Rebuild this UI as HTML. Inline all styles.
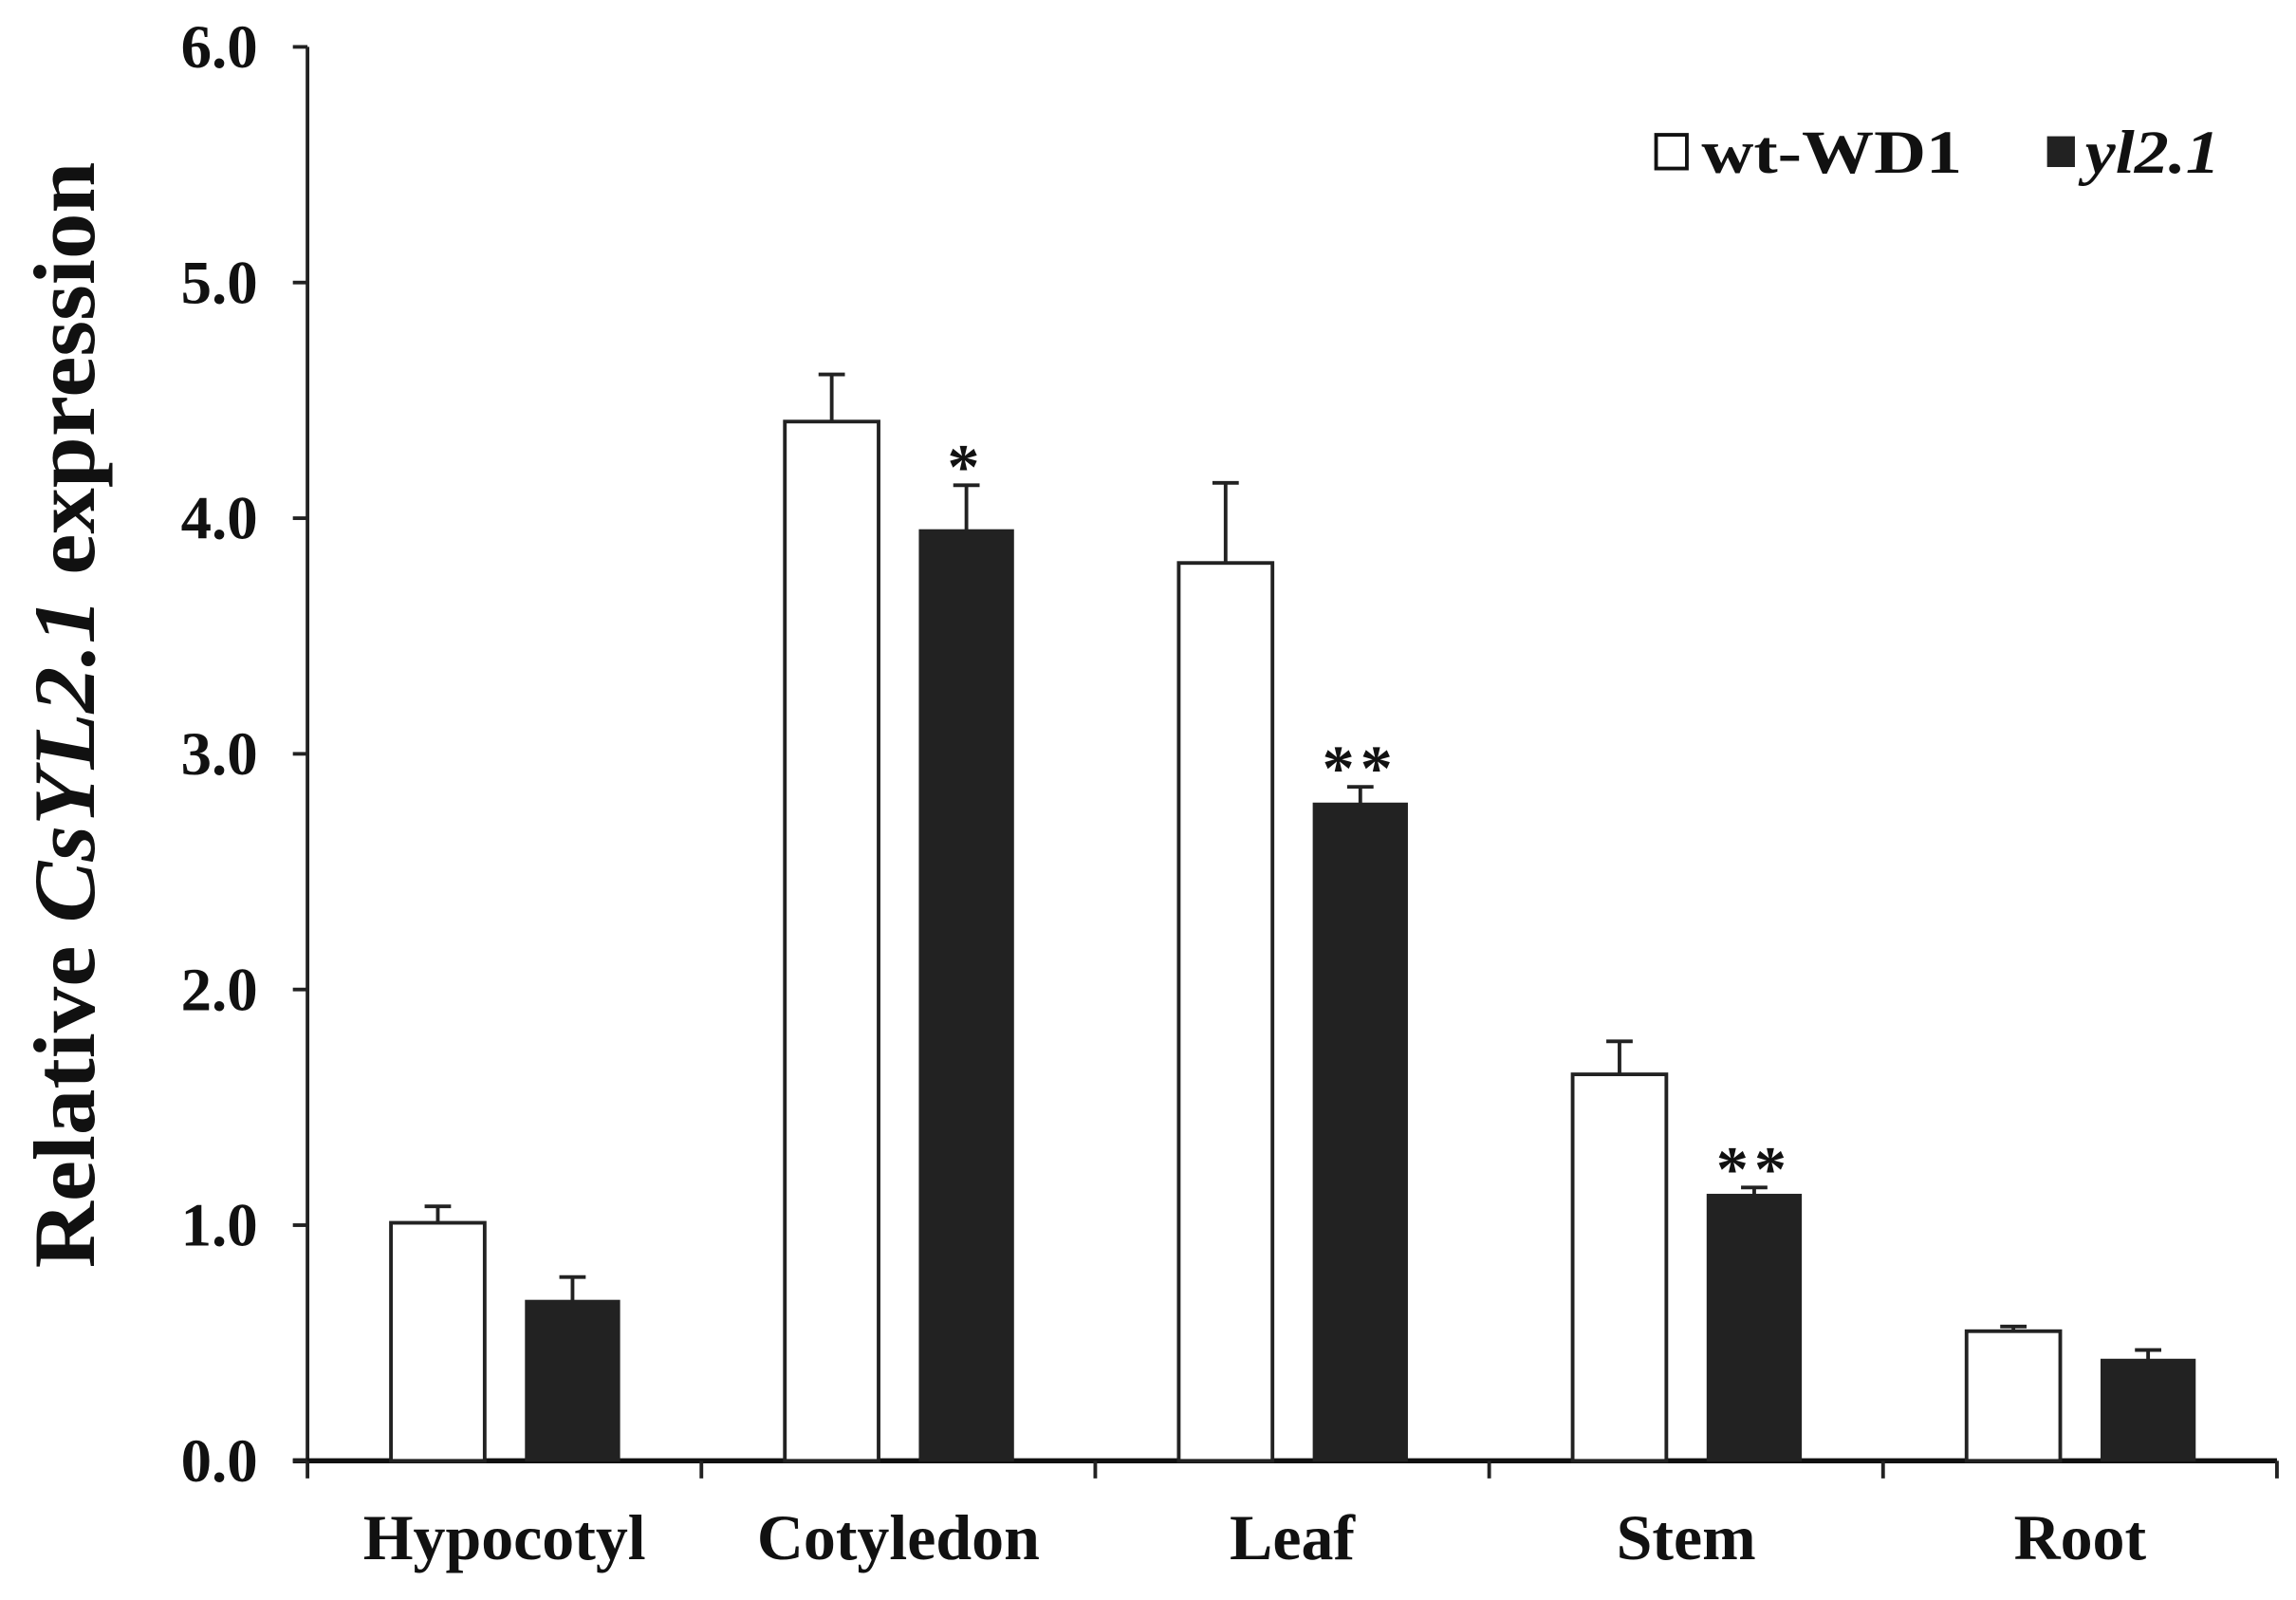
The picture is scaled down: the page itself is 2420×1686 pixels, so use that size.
<!DOCTYPE html>
<html><head><meta charset="utf-8">
<style>
html,body{margin:0;padding:0;background:#fff;}
svg{display:block;}
text{font-family:"Liberation Serif",serif;font-weight:bold;fill:#111;}
</style></head>
<body>
<svg id="chart" width="2420" height="1686" viewBox="0 0 1568 1092" preserveAspectRatio="none" xmlns="http://www.w3.org/2000/svg">
<g id="axes"></g>
<g id="bars"></g>
<text transform="translate(64,488) rotate(-90)" text-anchor="middle" font-size="60" textLength="755" lengthAdjust="spacingAndGlyphs">Relative <tspan font-style="italic">CsYL2.1</tspan> expression</text>
<g>
<rect x="1131" y="92" width="21" height="23" fill="#fff" stroke="#111" stroke-width="2.5"/>
<text x="1162" y="118" font-size="42" textLength="178" lengthAdjust="spacingAndGlyphs">wt-WD1</text>
<rect x="1398" y="93" width="19" height="21" fill="#222"/>
<text x="1424" y="118" font-size="42" font-style="italic" textLength="92" lengthAdjust="spacingAndGlyphs">yl2.1</text>
</g>
</svg>
<script>
const categories=["Hypocotyl","Cotyledon","Leaf","Stem","Root"];
const wtValues=[1.01,4.41,3.81,1.64,0.55];
const wtErrors=[0.07,0.20,0.34,0.14,0.02];
const ylValues=[0.68,3.95,2.79,1.13,0.43];
const ylErrors=[0.10,0.19,0.07,0.03,0.04];
const ylStars=["","*","**","**",""];
const yTicks=[0,1,2,3,4,5,6];
const yTickLabels=["0.0","1.0","2.0","3.0","4.0","5.0","6.0"];

const NS="http://www.w3.org/2000/svg";
const X0=210,X1=1555,Y0=997,Y1=32,YMAX=6;
const catW=(X1-X0)/categories.length;
function yScale(v){return Y0-(v/YMAX)*(Y0-Y1);}
function xCat(i){return X0+i*catW;}
function mk(tag,attrs,parent){const e=document.createElementNS(NS,tag);for(const k in attrs)e.setAttribute(k,attrs[k]);parent.appendChild(e);return e;}
const axes=document.getElementById('axes'),bars=document.getElementById('bars');

let e=mk('line',{x1:X0,y1:Y1,x2:X0,y2:Y0,stroke:'#222','stroke-width':2.5},axes);


e=mk('line',{x1:X0-10,y1:Y0,x2:X1,y2:Y0,stroke:'#111','stroke-width':3.5},axes);


yTicks.forEach((t,i)=>{
  const y=yScale(t);
  let l=mk('line',{x1:X0-10,y1:y,x2:X0,y2:y,stroke:'#222','stroke-width':2.5},axes);
  
  
  let tx=mk('text',{x:176,y:y+14,'text-anchor':'end','font-size':42},axes);
  tx.textContent=yTickLabels[i];
  
  
});
for(let i=0;i<=categories.length;i++){
  const x=xCat(i);
  let l=mk('line',{x1:x,y1:Y0,x2:x,y2:Y0+12,stroke:'#222','stroke-width':2.5},axes);
  
  
}
categories.forEach((c,i)=>{
  const cx=xCat(i)+catW/2;
  let tx=mk('text',{x:cx,y:1064,'text-anchor':'middle','font-size':44},axes);
  tx.textContent=c;
  
  
  const bw=64;
  const wx=xCat(i)+57, bx=xCat(i)+149;
  function drawBar(x,v,err,fill,name){
    const top=yScale(v);
    const cxm=x+bw/2;
    let el=mk('line',{x1:cxm,y1:top,x2:cxm,y2:yScale(v+err),stroke:'#222','stroke-width':2.5},bars);
    
    
    el=mk('line',{x1:cxm-9,y1:yScale(v+err),x2:cxm+9,y2:yScale(v+err),stroke:'#222','stroke-width':2.5},bars);
    
    
    el=mk('rect',{x:x,y:top,width:bw,height:Y0-top,fill:fill,stroke:'#222','stroke-width':fill==='#fff'?2.5:1},bars);
    
    
  }
  drawBar(wx,wtValues[i],wtErrors[i],'#fff','bar-wt-'+c.toLowerCase());
  drawBar(bx,ylValues[i],ylErrors[i],'#222','bar-yl-'+c.toLowerCase());
  if(ylStars[i]){
    let s=mk('text',{x:bx+bw/2,y:yScale(ylValues[i]+ylErrors[i])+2,'text-anchor':'middle','font-size':44,'font-weight':'normal',fill:'#444','letter-spacing':'4'},bars);
    s.textContent=ylStars[i];
    
    
  }
});
</script>
</body></html>
